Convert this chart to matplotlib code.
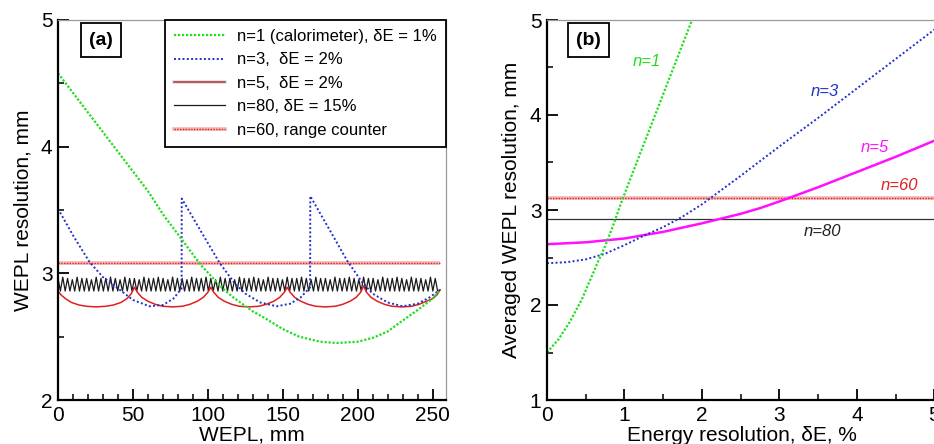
import numpy as np
import matplotlib
matplotlib.use('Agg')
import matplotlib.pyplot as plt
from matplotlib.lines import Line2D
from matplotlib.legend_handler import HandlerTuple
from matplotlib.ticker import MultipleLocator

plt.rcParams['font.family'] = ['Liberation Sans', 'DejaVu Sans']

# ---- panel (a): resolution vs WEPL ----
n1_x = [0, 20, 40, 60, 71, 80, 95, 110, 117, 130, 139, 150, 161, 175, 186, 200, 210, 220, 228, 240, 250, 255]
n1_y = [4.58, 4.27, 3.96, 3.65, 3.45, 3.31, 3.07, 2.88, 2.81, 2.70, 2.64, 2.56, 2.50, 2.46, 2.45, 2.46, 2.49, 2.54, 2.61, 2.71, 2.80, 2.87]

n3_x = [0, 10, 21, 30, 39, 50, 61, 70, 77, 82.5,
        82.6, 95, 108, 118, 125, 135, 146, 155, 162, 168.3,
        168.4, 180, 193, 203, 210, 220, 230, 240, 248, 255]
n3_y = [3.51, 3.30, 3.09, 2.97, 2.89, 2.79, 2.74, 2.75, 2.80, 2.88,
        3.59, 3.34, 3.08, 2.92, 2.84, 2.77, 2.74, 2.76, 2.81, 2.89,
        3.61, 3.37, 3.10, 2.93, 2.84, 2.77, 2.74, 2.76, 2.81, 2.87]

n5_x = [0, 2, 5, 9, 14, 19, 25.5, 32, 37, 42, 46, 49, 51,
        53, 56, 60, 65, 70, 76.5, 83, 88, 93, 97, 100, 102,
        104, 107, 111, 116, 121, 127.5, 134, 139, 144, 148, 151, 153,
        155, 158, 162, 167, 172, 178.5, 185, 190, 195, 199, 202, 204,
        206, 209, 213, 218, 223, 229.5, 236, 241, 246, 250, 253, 255]
n5_y = [2.86, 2.83, 2.80, 2.77, 2.75, 2.74, 2.735, 2.74, 2.75, 2.77, 2.80, 2.84, 2.89,
        2.85, 2.81, 2.78, 2.755, 2.74, 2.735, 2.74, 2.755, 2.78, 2.81, 2.85, 2.89,
        2.85, 2.81, 2.78, 2.755, 2.74, 2.735, 2.74, 2.755, 2.78, 2.81, 2.85, 2.89,
        2.85, 2.81, 2.78, 2.755, 2.74, 2.735, 2.74, 2.755, 2.78, 2.81, 2.85, 2.90,
        2.85, 2.81, 2.78, 2.755, 2.74, 2.735, 2.74, 2.755, 2.78, 2.80, 2.83, 2.87]

# 80 layers -> sawtooth, cusps every layer
n80_x = np.linspace(0, 255, 161)
n80_y = [2.96, 2.86, 2.97, 2.86, 2.96, 2.86, 2.95, 2.86, 2.97, 2.86, 2.96, 2.86, 2.96, 2.86, 2.95, 2.86, 2.97, 2.86, 2.96, 2.86,
         2.96, 2.86, 2.97, 2.86, 2.96, 2.86, 2.95, 2.86, 2.97, 2.86, 2.96, 2.86, 2.96, 2.86, 2.95, 2.86, 2.97, 2.86, 2.96, 2.86,
         2.96, 2.86, 2.97, 2.86, 2.96, 2.86, 2.95, 2.86, 2.97, 2.86, 2.96, 2.86, 2.96, 2.86, 2.95, 2.86, 2.97, 2.86, 2.96, 2.86,
         2.96, 2.86, 2.97, 2.86, 2.96, 2.86, 2.95, 2.86, 2.97, 2.86, 2.96, 2.86, 2.96, 2.86, 2.95, 2.86, 2.97, 2.86, 2.96, 2.86,
         2.96, 2.86, 2.97, 2.86, 2.96, 2.86, 2.95, 2.86, 2.97, 2.86, 2.96, 2.86, 2.96, 2.86, 2.95, 2.86, 2.97, 2.86, 2.96, 2.86,
         2.96, 2.86, 2.97, 2.86, 2.96, 2.86, 2.95, 2.86, 2.97, 2.86, 2.96, 2.86, 2.96, 2.86, 2.95, 2.86, 2.97, 2.86, 2.96, 2.86,
         2.96, 2.86, 2.97, 2.86, 2.96, 2.86, 2.95, 2.86, 2.97, 2.86, 2.96, 2.86, 2.96, 2.86, 2.95, 2.86, 2.97, 2.86, 2.96, 2.86,
         2.96, 2.86, 2.97, 2.86, 2.96, 2.86, 2.95, 2.86, 2.97, 2.86, 2.96, 2.86, 2.96, 2.86, 2.95, 2.86, 2.97, 2.86, 2.96, 2.86,
         2.87]

n60_x = [0, 255]
n60_y = [3.08, 3.08]

# ---- panel (b): averaged resolution vs energy resolution ----
b_n1_x = [0, 0.15, 0.3, 0.45, 0.55, 0.65, 0.75, 0.85, 0.95, 1.1, 1.3, 1.5, 1.7, 1.9]
b_n1_y = [1.50, 1.64, 1.83, 2.06, 2.25, 2.44, 2.62, 2.83, 3.06, 3.38, 3.80, 4.22, 4.64, 5.06]

b_n3_x = [0, 0.25, 0.5, 0.75, 1.0, 1.25, 1.5, 1.75, 2.0, 2.5, 3.0, 3.5, 4.0, 4.5, 5.0]
b_n3_y = [2.44, 2.45, 2.48, 2.54, 2.63, 2.73, 2.82, 2.93, 3.06, 3.36, 3.67, 3.97, 4.28, 4.59, 4.90]

b_n5_x = [0, 0.5, 1.0, 1.5, 2.0, 2.25, 2.5, 2.75, 3.0, 3.5, 4.0, 4.5, 5.0]
b_n5_y = [2.64, 2.66, 2.70, 2.77, 2.86, 2.91, 2.96, 3.02, 3.09, 3.24, 3.40, 3.56, 3.73]

b_n60_x = [0, 5.1]
b_n60_y = [3.13, 3.13]
b_n80_x = [0, 5.1]
b_n80_y = [2.905, 2.905]

green = '#22dd22'
blue = '#2030cc'
red = '#e02020'
magenta = '#ff10ff'
pink = '#f2b5b5'

fig = plt.figure(figsize=(9.34, 4.44), dpi=100)
axa = fig.add_axes([58/934, 44/444, 388/934, 380/444])
axb = fig.add_axes([547/934, 44/444, 389/934, 380/444])


def style(ax):
    for s in ['left', 'bottom']:
        ax.spines[s].set_linewidth(1.6)
        ax.spines[s].set_color('black')
    for s in ['top', 'right']:
        ax.spines[s].set_linewidth(0.9)
        ax.spines[s].set_color('#9a9a9a')
    ax.tick_params(which='major', direction='in', length=8, width=1.3, labelsize=15, pad=4,
                   top=False, right=False)
    ax.tick_params(which='minor', direction='in', length=4.5, width=1.1, top=False, right=False)


# panel a
axa.plot(n60_x, n60_y, color=pink, lw=2.6, solid_capstyle='butt')
axa.plot(n60_x, n60_y, color=red, lw=1, ls=(0, (1, 1)))
axa.plot(n80_x, n80_y, color='#1a1a1a', lw=0.9)
axa.plot(n5_x, n5_y, color=red, lw=1.1)
axa.plot(n3_x, n3_y, color=blue, lw=1.4, ls=(0, (1, 1.2)))
axa.plot(n1_x, n1_y, color=green, lw=1.6, ls=(0, (1, 0.8)))

axa.set_xlim(0, 259)
axa.set_ylim(2, 5)
axa.xaxis.set_major_locator(MultipleLocator(50))
axa.xaxis.set_minor_locator(MultipleLocator(10))
axa.yaxis.set_major_locator(MultipleLocator(1))
axa.yaxis.set_minor_locator(MultipleLocator(0.5))
style(axa)
axa.set_xlabel('WEPL, mm', fontsize=15, labelpad=1)
axa.set_ylabel('WEPL resolution, mm', fontsize=15, labelpad=6)
axa.text(0.111, 0.947, '(a)', transform=axa.transAxes, ha='center', va='center',
         fontsize=14, fontweight='bold',
         bbox=dict(boxstyle='square,pad=0.42', fc='white', ec='black', lw=1.3))

h1 = Line2D([], [], color=green, lw=1.6, ls=(0, (1, 0.8)))
h3 = Line2D([], [], color=blue, lw=1.4, ls=(0, (1, 1.2)))
h5 = (Line2D([], [], color='#bfe8f0', lw=2.6), Line2D([], [], color=red, lw=1.1))
h80 = Line2D([], [], color='#1a1a1a', lw=0.9)
h60 = (Line2D([], [], color=pink, lw=2.6), Line2D([], [], color=red, lw=1, ls=(0, (1, 1))))
leg = axa.legend([h1, h3, h5, h80, h60],
                 ['n=1 (calorimeter), \u03b4E = 1%', 'n=3,  \u03b4E = 2%', 'n=5,  \u03b4E = 2%',
                  'n=80, \u03b4E = 15%', 'n=60, range counter'],
                 handler_map={tuple: HandlerTuple(ndivide=1)},
                 loc='upper right', bbox_to_anchor=(1, 1), borderaxespad=0, fontsize=12,
                 fancybox=False, framealpha=1, edgecolor='black', handlelength=3.1,
                 handletextpad=0.7, labelspacing=0.5, borderpad=0.55)
leg.get_frame().set_linewidth(1.3)

# panel b
axb.plot(b_n60_x, b_n60_y, color=pink, lw=2.6, solid_capstyle='butt')
axb.plot(b_n60_x, b_n60_y, color=red, lw=1, ls=(0, (1, 1)))
axb.plot(b_n80_x, b_n80_y, color='#333333', lw=0.9)
axb.plot(b_n5_x, b_n5_y, color=magenta, lw=1.8)
axb.plot(b_n3_x, b_n3_y, color=blue, lw=1.4, ls=(0, (1, 1.2)))
axb.plot(b_n1_x, b_n1_y, color=green, lw=1.6, ls=(0, (1, 0.8)))

axb.set_xlim(0, 5.02)
axb.set_ylim(1, 5)
axb.xaxis.set_major_locator(MultipleLocator(1))
axb.xaxis.set_minor_locator(MultipleLocator(0.5))
axb.yaxis.set_major_locator(MultipleLocator(1))
axb.yaxis.set_minor_locator(MultipleLocator(0.5))
style(axb)
axb.spines['right'].set_visible(False)
axb.set_xlabel('Energy resolution, \u03b4E, %', fontsize=15, labelpad=1)
axb.set_ylabel('Averaged WEPL resolution, mm', fontsize=15, labelpad=6)
axb.text(0.106, 0.947, '(b)', transform=axb.transAxes, ha='center', va='center',
         fontsize=14, fontweight='bold',
         bbox=dict(boxstyle='square,pad=0.42', fc='white', ec='black', lw=1.3))

axb.text(1.29, 4.56, 'n=1', color=green, style='italic', fontsize=12, ha='center', va='center')
axb.text(3.59, 4.25, 'n=3', color=blue, style='italic', fontsize=12, ha='center', va='center')
axb.text(4.23, 3.66, 'n=5', color=magenta, style='italic', fontsize=12, ha='center', va='center')
axb.text(4.55, 3.26, 'n=60', color=red, style='italic', fontsize=12, ha='center', va='center')
axb.text(3.56, 2.77, 'n=80', color='#222222', style='italic', fontsize=12, ha='center', va='center')

fig.savefig('out.png', dpi=100)
